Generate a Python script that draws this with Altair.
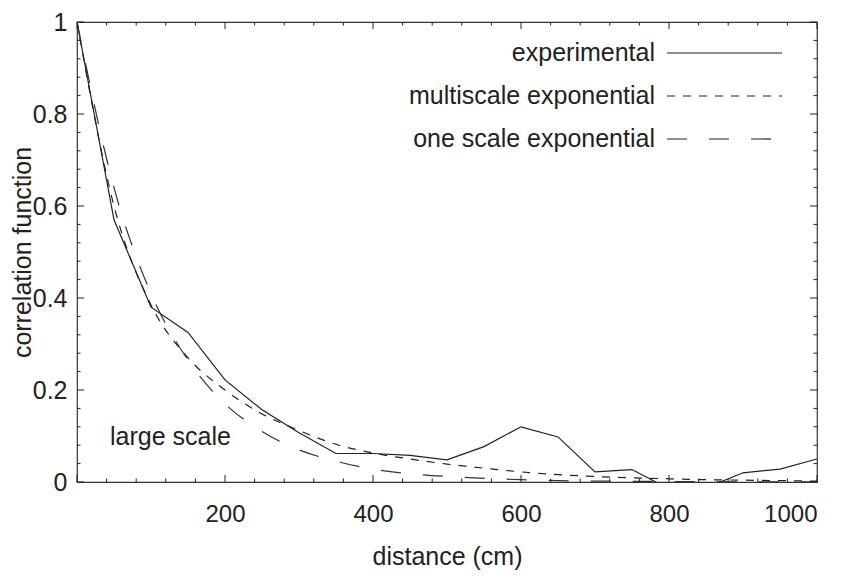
import altair as alt
import pandas as pd

# ---- data ----
distance = [0, 50, 100, 150, 200, 250, 300, 350, 400, 450, 500,
            550, 600, 650, 700, 750, 800, 850, 900, 950, 1000]
experimental = [1.0, 0.57, 0.38, 0.325, 0.222, 0.157, 0.107, 0.062, 0.062, 0.058, 0.048,
                0.077, 0.12, 0.098, 0.022, 0.027, -0.015, -0.013, 0.02, 0.028, 0.05]
multiscale = [1.0, 0.60, 0.385, 0.27, 0.2, 0.148, 0.112, 0.082, 0.063, 0.05, 0.039,
              0.03, 0.022, 0.016, 0.012, 0.009, 0.007, 0.005, 0.004, 0.003, 0.002]
one_scale = [1.0, 0.64, 0.41, 0.265, 0.17, 0.11, 0.07, 0.045, 0.028, 0.018, 0.012,
             0.008, 0.005, 0.003, 0.002, 0.0014, 0.001, 0.0007, 0.0004, 0.0003, 0.0002]

series_names = ["experimental", "multiscale exponential", "one scale exponential"]
x_tick_labels = [200, 400, 600, 800, 1000]
y_tick_labels = [0, 0.2, 0.4, 0.6, 0.8, 1.0]
x_minor = [v for v in range(0, 1001, 40)]
y_minor = [round(i * 0.04, 2) for i in range(0, 26)]
annotation = "large scale"

W, H = 740, 460
FONT = "Liberation Sans"
INK = "#222222"

xs = alt.Scale(domain=[0, 1000], nice=False, zero=False)
ys = alt.Scale(domain=[0, 1], nice=False, zero=False)

df = pd.DataFrame({"x": distance, "exp": experimental, "multi": multiscale, "one": one_scale})

x_enc = alt.X("x:Q", scale=xs,
              axis=alt.Axis(values=x_tick_labels, format="d", title="distance (cm)", grid=False,
                            domain=False, ticks=False, labelPadding=20, titlePadding=18,
                            labelFontSize=24, titleFontSize=25, titleFontWeight="normal",
                            labelColor=INK, titleColor=INK, labelFont=FONT, titleFont=FONT))
y_axis = alt.Axis(values=y_tick_labels, format="~g", title="correlation function", grid=False,
                  domain=False, ticks=False, labelPadding=10, titleX=-42, titleY=H / 2,
                  titleAlign="center", titleBaseline="bottom", labelFontSize=25,
                  titleFontSize=25, titleFontWeight="normal", labelColor=INK, titleColor=INK,
                  labelFont=FONT, titleFont=FONT)

DASH_MULTI = [8, 8]
DASH_ONE = [20, 22]

base = alt.Chart(df)
line_exp = base.mark_line(color=INK, strokeWidth=1.2, clip=True).encode(
    x=x_enc, y=alt.Y("exp:Q", scale=ys, axis=y_axis))
line_multi = base.mark_line(color=INK, strokeWidth=1.2, strokeDash=DASH_MULTI, clip=True,
                            interpolate="monotone").encode(
    x=alt.X("x:Q", scale=xs), y=alt.Y("multi:Q", scale=ys))
line_one = base.mark_line(color="#333333", strokeWidth=1.2, strokeDash=DASH_ONE, clip=True,
                          interpolate="monotone").encode(
    x=alt.X("x:Q", scale=xs), y=alt.Y("one:Q", scale=ys))

# inward ticks on all four sides
xt = pd.DataFrame({"x": x_minor, "major": [v % 200 == 0 for v in x_minor]})
yt = pd.DataFrame({"y": y_minor, "major": [abs(v / 0.2 - round(v / 0.2)) < 1e-6 for v in y_minor]})
layers = [line_exp, line_multi, line_one]
for major, ln in [(True, 7), (False, 3.5)]:
    dx = alt.Chart(xt).transform_filter(alt.datum.major == major)
    dy = alt.Chart(yt).transform_filter(alt.datum.major == major)
    layers.append(dx.mark_rule(color=INK, strokeWidth=1).encode(
        x=alt.X("x:Q", scale=xs), y=alt.value(H), y2=alt.value(H - ln)))
    layers.append(dx.mark_rule(color=INK, strokeWidth=1).encode(
        x=alt.X("x:Q", scale=xs), y=alt.value(0), y2=alt.value(ln)))
    layers.append(dy.mark_rule(color=INK, strokeWidth=1).encode(
        y=alt.Y("y:Q", scale=ys), x=alt.value(0), x2=alt.value(ln)))
    layers.append(dy.mark_rule(color=INK, strokeWidth=1).encode(
        y=alt.Y("y:Q", scale=ys), x=alt.value(W), x2=alt.value(W - ln)))

# manual legend (label on the left, sample on the right)
dashes = [None, DASH_MULTI, DASH_ONE]
for i, name in enumerate(series_names):
    yp = 31 + i * 43
    ldf = pd.DataFrame({"label": [name]})
    layers.append(alt.Chart(ldf).mark_text(align="right", baseline="middle", font=FONT,
                                           fontSize=25, color=INK).encode(
        text="label:N", x=alt.value(578), y=alt.value(yp)))
    rule_kwargs = dict(color=INK, strokeWidth=1.2)
    if dashes[i] is not None:
        rule_kwargs["strokeDash"] = dashes[i]
    layers.append(alt.Chart(ldf).mark_rule(**rule_kwargs).encode(
        x=alt.value(590), x2=alt.value(705), y=alt.value(yp)))

layers.append(alt.Chart(pd.DataFrame({"t": [annotation]})).mark_text(
    align="left", baseline="alphabetic", font=FONT, fontSize=25, color=INK).encode(
    text="t:N", x=alt.value(33), y=alt.value(423)))

chart = alt.layer(*layers).properties(
    width=W, height=H, autosize=alt.AutoSizeParams(type="none"),
    padding={"left": 69, "top": 14, "right": 25, "bottom": 88},
    background="white",
).configure_view(stroke="#333333", strokeWidth=1.2)

chart.save("out.html", embed_options={"renderer": "svg", "actions": False})
